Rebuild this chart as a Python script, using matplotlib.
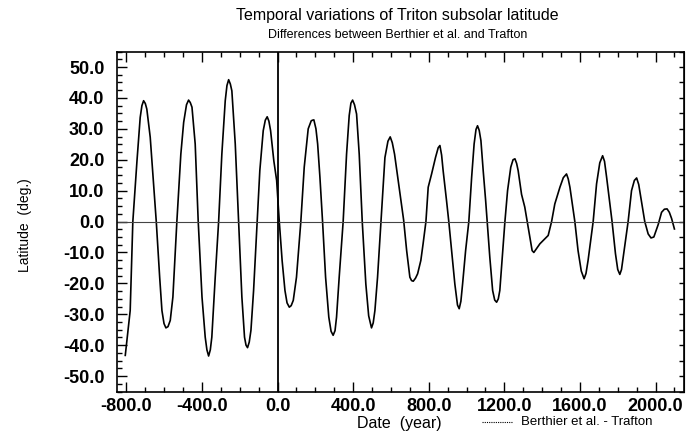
import numpy as np
import matplotlib
matplotlib.use("Agg")
import matplotlib.pyplot as plt
from matplotlib.ticker import MultipleLocator, FormatStrFormatter
from matplotlib.lines import Line2D

plt.rcParams['font.family'] = ['Liberation Sans', 'DejaVu Sans']
plt.rcParams['axes.unicode_minus'] = False

# Berthier et al. - Trafton, subsolar latitude difference (deg.)
years = [-806, -780, -766, -744, -727, -718, -709, -700, -692, -674,
         -656, -642, -624, -612, -601, -591, -580, -568, -554, -533,
         -512, -497, -482, -471, -462, -453, -436, -420, -400, -383,
         -374, -365, -356, -348, -330, -312, -295, -277, -268, -259,
         -250, -242, -224, -206, -189, -175, -167, -159, -150, -141,
         -127, -108, -94, -76, -65, -55, -46, -37, -20, -5,
         9, 24, 39, 50, 62, 72, 83, 100, 123, 141,
         162, 178, 185, 192, 203, 212, 224, 238, 254, 271,
         283, 294, 304, 312, 326, 347, 365, 379, 388, 397,
         407, 418, 432, 448, 467, 482, 497, 506, 515, 529,
         547, 568, 584, 596, 607, 619, 632, 645, 667, 683,
         700, 709, 718, 730, 741, 758, 770, 785, 797, 815,
         836, 850, 859, 868, 876, 894, 906, 921, 938, 952,
         961, 970, 979, 995, 1012, 1027, 1040, 1050, 1058, 1067,
         1076, 1088, 1101, 1109, 1123, 1138, 1149, 1159, 1168, 1176,
         1188, 1203, 1217, 1234, 1246, 1256, 1265, 1273, 1291, 1308,
         1321, 1335, 1347, 1356, 1363, 1388, 1414, 1432, 1450, 1467,
         1494, 1512, 1529, 1538, 1547, 1573, 1590, 1607, 1622, 1632,
         1643, 1670, 1688, 1705, 1720, 1730, 1741, 1770, 1788, 1800,
         1811, 1820, 1829, 1855, 1873, 1888, 1900, 1911, 1922, 1943,
         1961, 1976, 1991, 2014, 2032, 2047, 2061, 2073, 2085, 2100]
latitude = [-43.3, -28.8, 0.0, 19.7, 33.7, 37.5, 39.1, 38.2, 36.4, 27.3,
            12.2, 0.0, -18.0, -28.8, -33.0, -34.4, -34.0, -32.0, -24.4, 0.0,
            21.8, 32.1, 37.8, 39.3, 38.5, 37.0, 25.1, 0.0, -24.4, -37.4,
            -41.5, -43.5, -41.5, -37.4, -18.0, 0.0, 21.8, 39.1, 44.0, 45.9,
            44.5, 42.3, 25.1, 0.0, -24.4, -37.4, -40.0, -40.8, -39.0, -35.2,
            -22.3, 0.0, 16.5, 29.4, 32.8, 33.9, 32.5, 29.4, 19.7, 13.3,
            0.0, -12.6, -22.3, -26.3, -27.7, -27.2, -25.5, -18.0, 0.0, 17.6,
            30.0, 32.6, 32.8, 32.9, 30.0, 25.1, 14.4, 0.0, -18.0, -30.9,
            -35.5, -36.8, -35.3, -30.9, -18.0, 0.0, 21.8, 34.3, 38.3, 39.3,
            37.8, 34.8, 21.8, 0.0, -20.2, -30.5, -34.4, -32.8, -28.8, -18.0,
            0.0, 20.7, 26.0, 27.4, 25.5, 21.8, 16.0, 10.0, 0.5, -9.4,
            -18.0, -19.1, -19.3, -18.3, -16.9, -12.6, -7.2, 0.0, 11.1, 15.4,
            20.8, 23.9, 24.6, 21.5, 16.5, 6.8, 0.0, -9.4, -20.2, -27.0,
            -28.2, -25.8, -20.2, -9.4, 0.0, 14.4, 25.1, 29.8, 31.0, 29.5,
            26.2, 16.5, 6.8, 0.0, -11.5, -22.3, -25.4, -26.1, -25.0, -22.3,
            -12.6, 0.0, 10.0, 17.6, 20.0, 20.3, 18.8, 16.5, 8.8, 4.7,
            0.0, -5.0, -9.4, -10.0, -9.4, -7.2, -5.6, -4.5, 0.0, 5.7,
            11.1, 14.2, 15.4, 13.8, 11.1, 0.0, -9.4, -16.0, -18.5, -16.8,
            -12.6, 0.0, 12.2, 19.0, 21.3, 19.5, 14.4, 0.0, -10.4, -15.5,
            -17.1, -15.5, -11.5, 0.0, 10.0, 13.3, 14.1, 12.0, 7.9, 0.0,
            -4.0, -5.3, -5.0, -1.0, 3.0, 4.0, 4.1, 3.0, 1.0, -2.4]

title = "Temporal variations of Triton subsolar latitude"
subtitle = "Differences between Berthier et al. and Trafton"
legend_label = "Berthier et al. - Trafton"

fig = plt.figure(figsize=(6.88, 4.37), dpi=100)
ax = fig.add_axes([0.170, 0.104, 0.824, 0.778])

ax.plot(years, latitude, color='black', lw=1.2)
ax.axhline(0, color='#444444', lw=0.8)
ax.axvline(0, color='black', lw=1.3)

ax.set_xlim(-850, 2150)
ax.set_ylim(-55, 55)

ax.xaxis.set_major_locator(MultipleLocator(400))
ax.xaxis.set_minor_locator(MultipleLocator(100))
ax.yaxis.set_major_locator(MultipleLocator(10))
ax.yaxis.set_minor_locator(MultipleLocator(2.5))
ax.xaxis.set_major_formatter(FormatStrFormatter('%.1f'))
ax.yaxis.set_major_formatter(FormatStrFormatter('%.1f'))

ax.tick_params(which='both', direction='in', top=True, right=False, width=1.0)
ax.tick_params(axis='x', which='major', length=7, pad=5)
ax.tick_params(axis='y', which='major', length=7, pad=9)
ax.tick_params(which='minor', length=3.5)
for lbl in ax.get_xticklabels() + ax.get_yticklabels():
    lbl.set_fontsize(13)
    lbl.set_fontweight('bold')

# right axis only carries small ticks every 5 deg
sec = ax.secondary_yaxis('right')
sec.yaxis.set_major_locator(MultipleLocator(5))
sec.tick_params(direction='in', length=3.5, labelright=False, width=1.0)

for s in ax.spines.values():
    s.set_linewidth(1.2)

fig.text(0.578, 0.965, title, ha='center', va='center', fontsize=11.5)
fig.text(0.578, 0.920, subtitle, ha='center', va='center', fontsize=9)

fig.text(0.036, 0.485, "Latitude  (deg.)", rotation=90, ha='center', va='center',
         fontsize=10, family=['Liberation Sans Narrow', 'Liberation Sans'])
fig.text(0.581, 0.031, "Date  (year)", ha='center', va='center', fontsize=11.5)

fig.add_artist(Line2D([0.700, 0.746], [0.034, 0.034], transform=fig.transFigure,
                      color='black', lw=0.8, ls=(0, (1, 1))))
fig.text(0.757, 0.034, legend_label, ha='left', va='center', fontsize=9.5)

fig.savefig("out.png", dpi=100)
